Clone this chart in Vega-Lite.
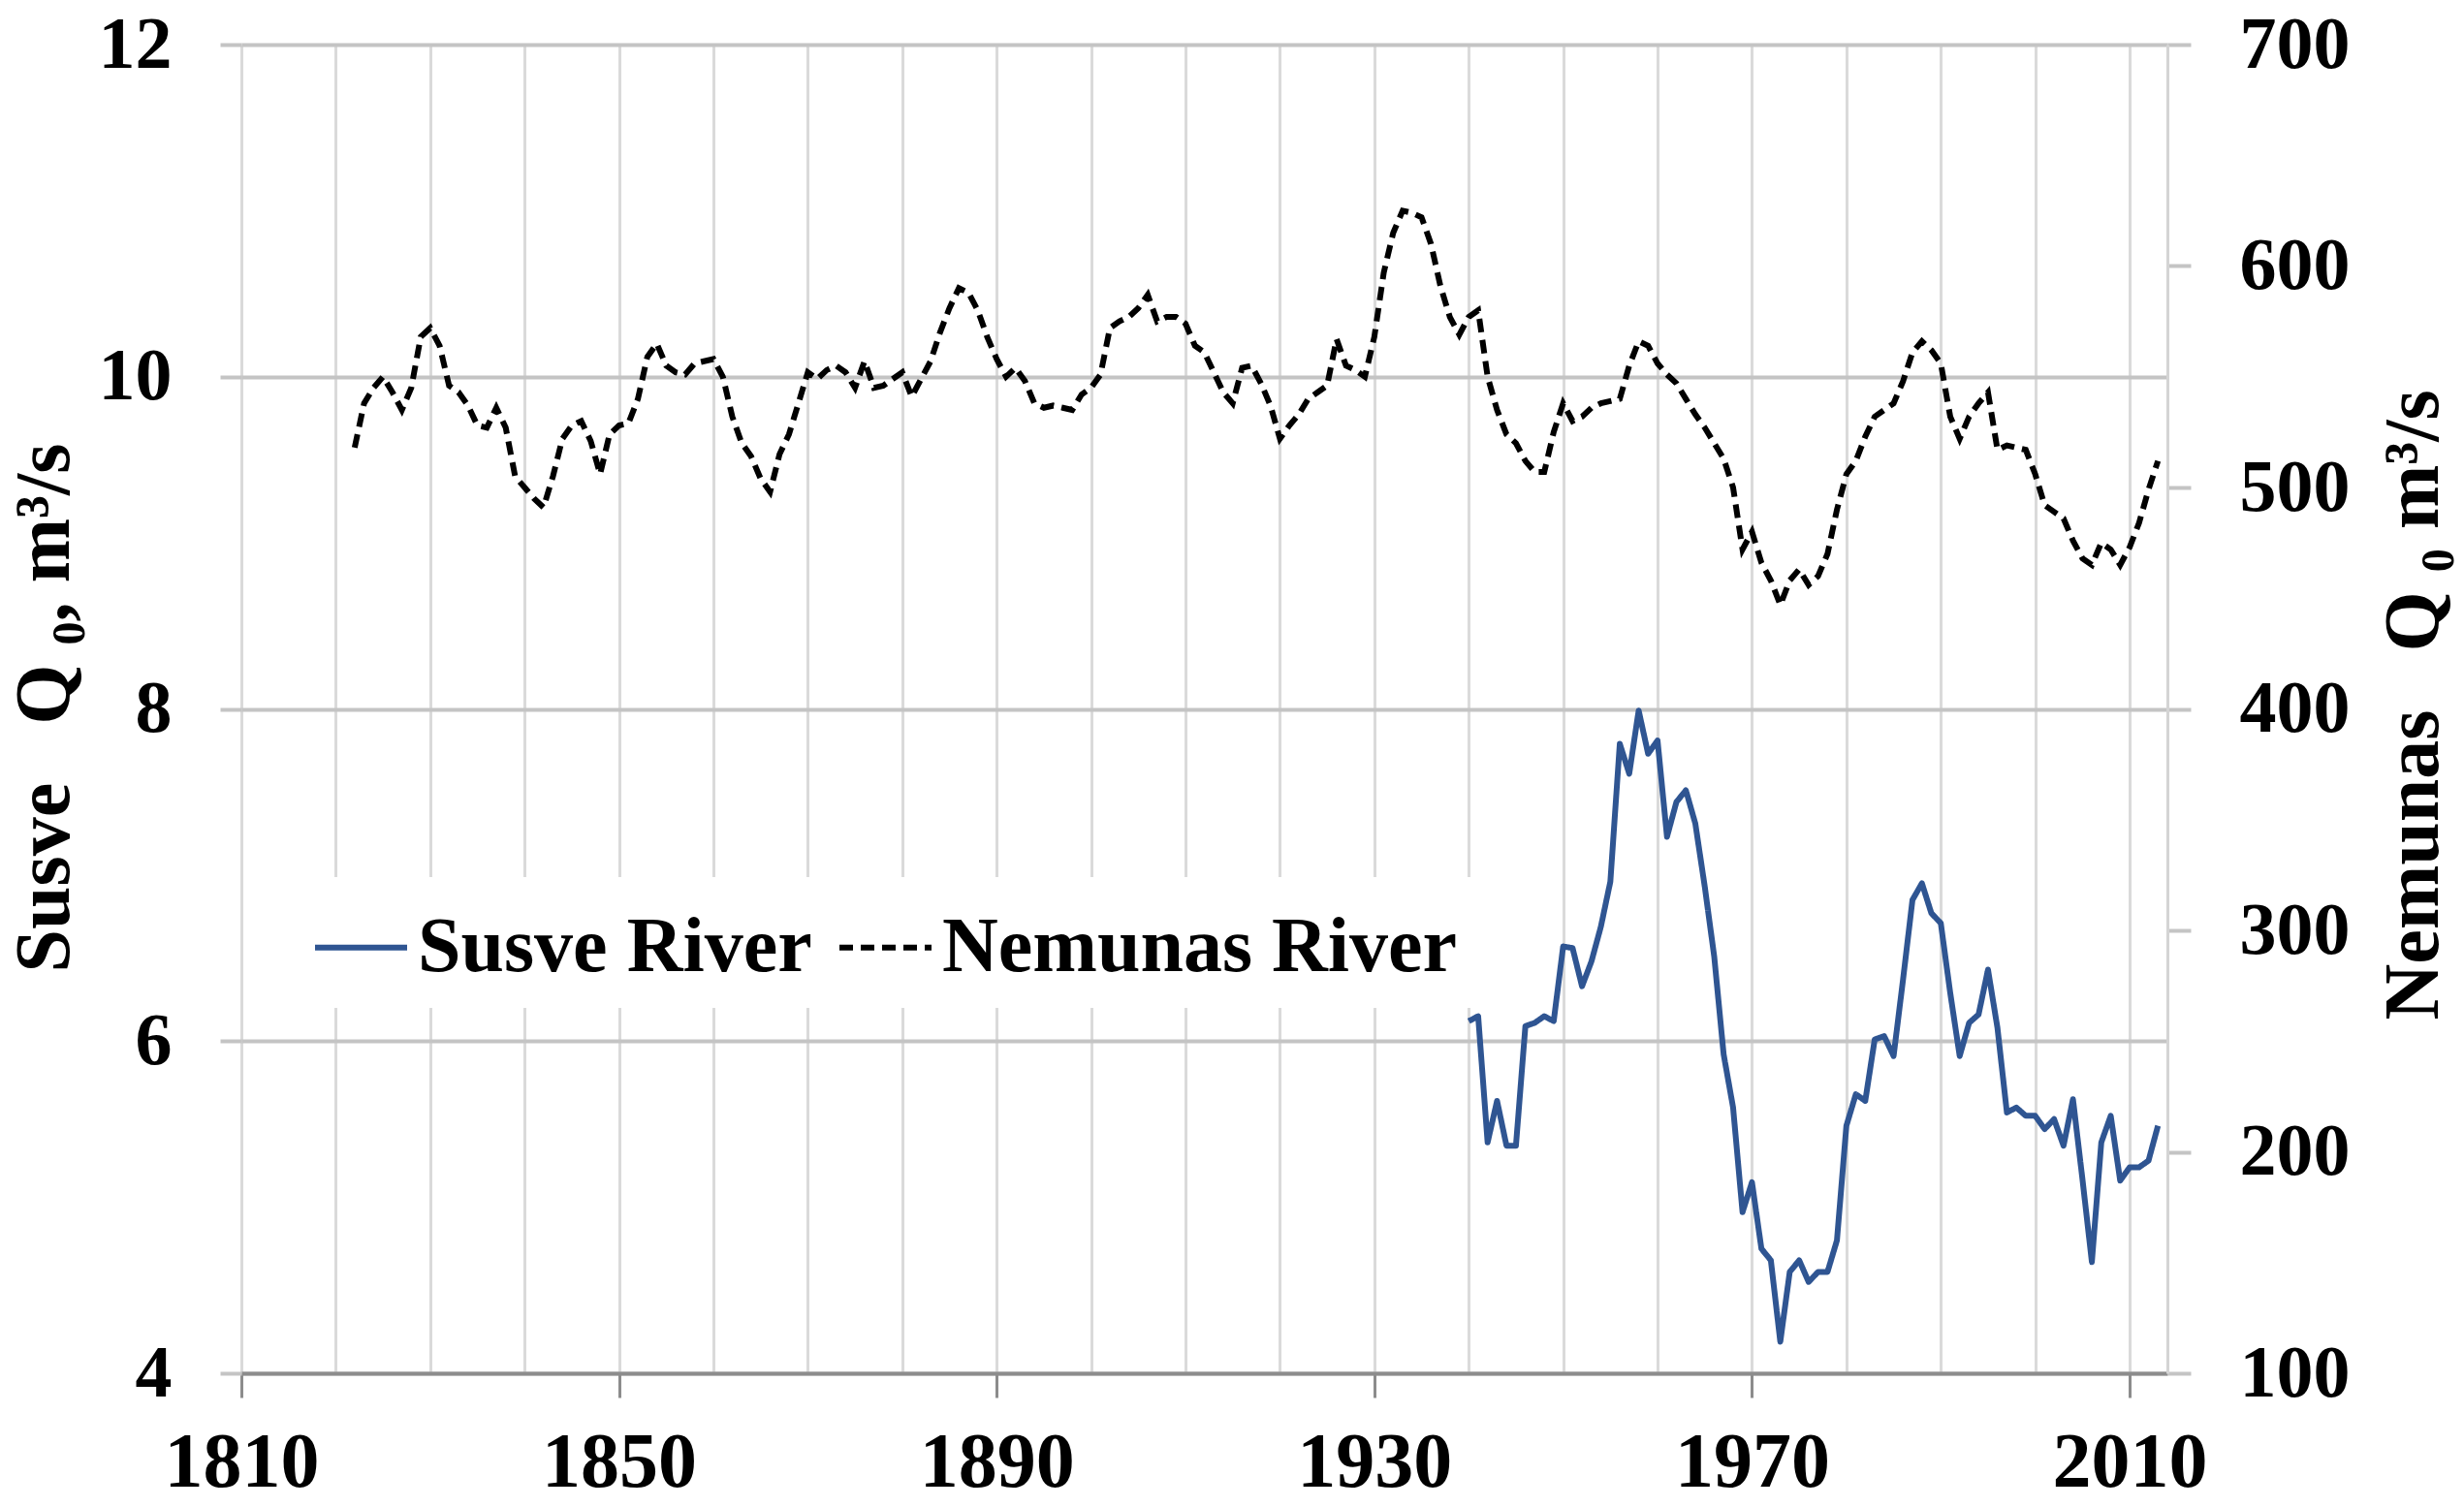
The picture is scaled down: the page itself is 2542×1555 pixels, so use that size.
{
  "$schema": "https://vega.github.io/schema/vega-lite/v6.json",
  "width": 1987,
  "height": 1371,
  "autosize": "none",
  "padding": {"left": 249, "top": 46, "right": 306, "bottom": 138},
  "background": "white",
  "config": {
    "view": {"stroke": null},
    "font": "Liberation Serif",
    "axis": {
      "labelFont": "Liberation Serif",
      "labelFontSize": 80,
      "labelFontWeight": "bold",
      "labelColor": "black",
      "titleFont": "Liberation Serif",
      "titleFontSize": 80,
      "titleFontWeight": "bold",
      "titleColor": "black"
    },
    "legend": {
      "orient": "none",
      "legendX": 51,
      "legendY": 859,
      "direction": "horizontal",
      "fillColor": "white",
      "padding": 22,
      "symbolType": "stroke",
      "symbolSize": 9025,
      "symbolStrokeWidth": 6,
      "labelFont": "Liberation Serif",
      "labelFontSize": 80,
      "labelFontWeight": "bold",
      "labelColor": "black",
      "labelOffset": 8,
      "labelLimit": 0,
      "columnPadding": 16
    }
  },
  "datasets": {
    "susve": [
      {"year": 1940, "q": 6.12}, {"year": 1941, "q": 6.15}, {"year": 1942, "q": 5.39}, {"year": 1943, "q": 5.64},
      {"year": 1944, "q": 5.37}, {"year": 1945, "q": 5.37}, {"year": 1946, "q": 6.09}, {"year": 1947, "q": 6.11},
      {"year": 1948, "q": 6.15}, {"year": 1949, "q": 6.12}, {"year": 1950, "q": 6.57}, {"year": 1951, "q": 6.56},
      {"year": 1952, "q": 6.33}, {"year": 1953, "q": 6.48}, {"year": 1954, "q": 6.69}, {"year": 1955, "q": 6.96},
      {"year": 1956, "q": 7.79}, {"year": 1957, "q": 7.61}, {"year": 1958, "q": 7.99}, {"year": 1959, "q": 7.73},
      {"year": 1960, "q": 7.81}, {"year": 1961, "q": 7.23}, {"year": 1962, "q": 7.44}, {"year": 1963, "q": 7.51},
      {"year": 1964, "q": 7.31}, {"year": 1965, "q": 6.93}, {"year": 1966, "q": 6.51}, {"year": 1967, "q": 5.92},
      {"year": 1968, "q": 5.6}, {"year": 1969, "q": 4.97}, {"year": 1970, "q": 5.15}, {"year": 1971, "q": 4.75},
      {"year": 1972, "q": 4.68}, {"year": 1973, "q": 4.19}, {"year": 1974, "q": 4.61}, {"year": 1975, "q": 4.68},
      {"year": 1976, "q": 4.55}, {"year": 1977, "q": 4.61}, {"year": 1978, "q": 4.61}, {"year": 1979, "q": 4.8},
      {"year": 1980, "q": 5.49}, {"year": 1981, "q": 5.68}, {"year": 1982, "q": 5.64}, {"year": 1983, "q": 6.01},
      {"year": 1984, "q": 6.03}, {"year": 1985, "q": 5.91}, {"year": 1986, "q": 6.37}, {"year": 1987, "q": 6.85},
      {"year": 1988, "q": 6.95}, {"year": 1989, "q": 6.77}, {"year": 1990, "q": 6.71}, {"year": 1991, "q": 6.29},
      {"year": 1992, "q": 5.91}, {"year": 1993, "q": 6.11}, {"year": 1994, "q": 6.16}, {"year": 1995, "q": 6.43},
      {"year": 1996, "q": 6.08}, {"year": 1997, "q": 5.57}, {"year": 1998, "q": 5.6}, {"year": 1999, "q": 5.55},
      {"year": 2000, "q": 5.55}, {"year": 2001, "q": 5.47}, {"year": 2002, "q": 5.53}, {"year": 2003, "q": 5.37},
      {"year": 2004, "q": 5.65}, {"year": 2005, "q": 5.17}, {"year": 2006, "q": 4.67}, {"year": 2007, "q": 5.39},
      {"year": 2008, "q": 5.55}, {"year": 2009, "q": 5.16}, {"year": 2010, "q": 5.24}, {"year": 2011, "q": 5.24},
      {"year": 2012, "q": 5.28}, {"year": 2013, "q": 5.49}
    ],
    "nemunas": [
      {"year": 1822, "q": 518}, {"year": 1823, "q": 538}, {"year": 1824, "q": 545}, {"year": 1825, "q": 550},
      {"year": 1826, "q": 543}, {"year": 1827, "q": 535}, {"year": 1828, "q": 545}, {"year": 1829, "q": 568},
      {"year": 1830, "q": 572}, {"year": 1831, "q": 564}, {"year": 1832, "q": 546}, {"year": 1833, "q": 543},
      {"year": 1834, "q": 537}, {"year": 1835, "q": 528}, {"year": 1836, "q": 527}, {"year": 1837, "q": 536},
      {"year": 1838, "q": 527}, {"year": 1839, "q": 505}, {"year": 1840, "q": 500}, {"year": 1841, "q": 495},
      {"year": 1842, "q": 491}, {"year": 1843, "q": 505}, {"year": 1844, "q": 522}, {"year": 1845, "q": 528},
      {"year": 1846, "q": 530}, {"year": 1847, "q": 521}, {"year": 1848, "q": 506}, {"year": 1849, "q": 524},
      {"year": 1850, "q": 528}, {"year": 1851, "q": 529}, {"year": 1852, "q": 540}, {"year": 1853, "q": 559},
      {"year": 1854, "q": 565}, {"year": 1855, "q": 555}, {"year": 1856, "q": 552}, {"year": 1857, "q": 551},
      {"year": 1858, "q": 556}, {"year": 1859, "q": 557}, {"year": 1860, "q": 558}, {"year": 1861, "q": 550},
      {"year": 1862, "q": 532}, {"year": 1863, "q": 520}, {"year": 1864, "q": 514}, {"year": 1865, "q": 504},
      {"year": 1866, "q": 498}, {"year": 1867, "q": 515}, {"year": 1868, "q": 524}, {"year": 1869, "q": 538},
      {"year": 1870, "q": 552}, {"year": 1871, "q": 549}, {"year": 1872, "q": 553}, {"year": 1873, "q": 555},
      {"year": 1874, "q": 552}, {"year": 1875, "q": 545}, {"year": 1876, "q": 557}, {"year": 1877, "q": 545},
      {"year": 1878, "q": 546}, {"year": 1879, "q": 549}, {"year": 1880, "q": 552}, {"year": 1881, "q": 541},
      {"year": 1882, "q": 549}, {"year": 1883, "q": 557}, {"year": 1884, "q": 570}, {"year": 1885, "q": 581},
      {"year": 1886, "q": 590}, {"year": 1887, "q": 588}, {"year": 1888, "q": 580}, {"year": 1889, "q": 568},
      {"year": 1890, "q": 558}, {"year": 1891, "q": 550}, {"year": 1892, "q": 554}, {"year": 1893, "q": 548},
      {"year": 1894, "q": 538}, {"year": 1895, "q": 536}, {"year": 1896, "q": 537}, {"year": 1897, "q": 536},
      {"year": 1898, "q": 535}, {"year": 1899, "q": 542}, {"year": 1900, "q": 545}, {"year": 1901, "q": 551},
      {"year": 1902, "q": 572}, {"year": 1903, "q": 575}, {"year": 1904, "q": 577}, {"year": 1905, "q": 581},
      {"year": 1906, "q": 587}, {"year": 1907, "q": 575}, {"year": 1908, "q": 577}, {"year": 1909, "q": 577},
      {"year": 1910, "q": 574}, {"year": 1911, "q": 564}, {"year": 1912, "q": 561}, {"year": 1913, "q": 552},
      {"year": 1914, "q": 543}, {"year": 1915, "q": 538}, {"year": 1916, "q": 554}, {"year": 1917, "q": 555},
      {"year": 1918, "q": 547}, {"year": 1919, "q": 537}, {"year": 1920, "q": 522}, {"year": 1921, "q": 528},
      {"year": 1922, "q": 533}, {"year": 1923, "q": 540}, {"year": 1924, "q": 543}, {"year": 1925, "q": 546},
      {"year": 1926, "q": 567}, {"year": 1927, "q": 555}, {"year": 1928, "q": 553}, {"year": 1929, "q": 550},
      {"year": 1930, "q": 568}, {"year": 1931, "q": 597}, {"year": 1932, "q": 615}, {"year": 1933, "q": 625},
      {"year": 1934, "q": 624}, {"year": 1935, "q": 622}, {"year": 1936, "q": 610}, {"year": 1937, "q": 591},
      {"year": 1938, "q": 577}, {"year": 1939, "q": 569}, {"year": 1940, "q": 577}, {"year": 1941, "q": 580},
      {"year": 1942, "q": 550}, {"year": 1943, "q": 535}, {"year": 1944, "q": 524}, {"year": 1945, "q": 520},
      {"year": 1946, "q": 512}, {"year": 1947, "q": 507}, {"year": 1948, "q": 507}, {"year": 1949, "q": 525},
      {"year": 1950, "q": 538}, {"year": 1951, "q": 530}, {"year": 1952, "q": 532}, {"year": 1953, "q": 536},
      {"year": 1954, "q": 538}, {"year": 1955, "q": 539}, {"year": 1956, "q": 540}, {"year": 1957, "q": 555},
      {"year": 1958, "q": 566}, {"year": 1959, "q": 564}, {"year": 1960, "q": 556}, {"year": 1961, "q": 551},
      {"year": 1962, "q": 547}, {"year": 1963, "q": 540}, {"year": 1964, "q": 533}, {"year": 1965, "q": 527},
      {"year": 1966, "q": 520}, {"year": 1967, "q": 513}, {"year": 1968, "q": 500}, {"year": 1969, "q": 472},
      {"year": 1970, "q": 480}, {"year": 1971, "q": 466}, {"year": 1972, "q": 458}, {"year": 1973, "q": 447},
      {"year": 1974, "q": 458}, {"year": 1975, "q": 463}, {"year": 1976, "q": 456}, {"year": 1977, "q": 460},
      {"year": 1978, "q": 470}, {"year": 1979, "q": 490}, {"year": 1980, "q": 506}, {"year": 1981, "q": 512},
      {"year": 1982, "q": 523}, {"year": 1983, "q": 532}, {"year": 1984, "q": 535}, {"year": 1985, "q": 538},
      {"year": 1986, "q": 548}, {"year": 1987, "q": 561}, {"year": 1988, "q": 566}, {"year": 1989, "q": 562},
      {"year": 1990, "q": 556}, {"year": 1991, "q": 532}, {"year": 1992, "q": 522}, {"year": 1993, "q": 532},
      {"year": 1994, "q": 538}, {"year": 1995, "q": 543}, {"year": 1996, "q": 517}, {"year": 1997, "q": 519},
      {"year": 1998, "q": 518}, {"year": 1999, "q": 517}, {"year": 2000, "q": 506}, {"year": 2001, "q": 492},
      {"year": 2002, "q": 489}, {"year": 2003, "q": 486}, {"year": 2004, "q": 476}, {"year": 2005, "q": 468},
      {"year": 2006, "q": 465}, {"year": 2007, "q": 475}, {"year": 2008, "q": 472}, {"year": 2009, "q": 465},
      {"year": 2010, "q": 473}, {"year": 2011, "q": 484}, {"year": 2012, "q": 499}, {"year": 2013, "q": 512}
    ]
  },
  "encoding": {
    "x": {
      "field": "year",
      "type": "quantitative",
      "scale": {"domain": [1810, 2014], "nice": false, "zero": false},
      "axis": {
        "title": null,
        "values": [1810, 1820, 1830, 1840, 1850, 1860, 1870, 1880, 1890, 1900, 1910, 1920, 1930, 1940, 1950, 1960, 1970, 1980, 1990, 2000, 2010],
        "labelExpr": "(datum.value - 1810) % 40 == 0 ? datum.label : ''",
        "format": "d",
        "grid": true,
        "gridColor": "#dadada",
        "gridWidth": 3,
        "domainColor": "#8c8c8c",
        "domainWidth": 4,
        "tickColor": "#8c8c8c",
        "tickWidth": 3,
        "tickSize": 25,
        "tickOpacity": {"condition": {"test": "(datum.value - 1810) % 40 == 0", "value": 1}, "value": 0},
        "labelPadding": 28,
        "labelFlush": false,
        "labelOverlap": false
      }
    }
  },
  "layer": [
    {
      "data": {"name": "susve"},
      "mark": {"type": "line", "strokeWidth": 6, "strokeJoin": "round"},
      "encoding": {
        "y": {
          "field": "q",
          "type": "quantitative",
          "scale": {"domain": [4, 12], "nice": false, "zero": false},
          "axis": {
            "orient": "left",
            "title": "Susve\u00a0\u00a0\u00a0Q\u00a0₀,\u00a0m³/s",
            "titleX": -203,
            "titleY": 684,
            "titleAngle": 270,
            "titleAlign": "center",
            "titleBaseline": "middle",
            "values": [4, 6, 8, 10, 12],
            "grid": true,
            "gridColor": "#c4c4c4",
            "gridWidth": 4,
            "domain": false,
            "tickColor": "#c4c4c4",
            "tickWidth": 4,
            "tickSize": 22,
            "labelFontSize": 76,
            "labelPadding": 50
          }
        },
        "color": {
          "datum": "Susve River",
          "type": "nominal",
          "scale": {"domain": ["Susve River", "Nemunas River"], "range": ["#2f5592", "#000000"]},
          "legend": {"title": null}
        },
        "strokeDash": {
          "datum": "Susve River",
          "type": "nominal",
          "scale": {"domain": ["Susve River", "Nemunas River"], "range": [[1, 0], [14, 8]]},
          "legend": {"title": null}
        }
      }
    },
    {
      "data": {"name": "nemunas"},
      "mark": {"type": "line", "strokeWidth": 6},
      "encoding": {
        "y": {
          "field": "q",
          "type": "quantitative",
          "scale": {"domain": [100, 700], "nice": false, "zero": false},
          "axis": {
            "orient": "right",
            "title": "Nemunas\u00a0\u00a0\u00a0Q\u00a0₀\u00a0m³/s",
            "titleX": 254,
            "titleY": 681,
            "titleAngle": 270,
            "titleAlign": "center",
            "titleBaseline": "middle",
            "values": [100, 200, 300, 400, 500, 600, 700],
            "grid": false,
            "domain": true,
            "domainColor": "#d4d4d4",
            "domainWidth": 3,
            "tickColor": "#c4c4c4",
            "tickWidth": 4,
            "tickSize": 24,
            "labelFontSize": 76,
            "labelPadding": 50
          }
        },
        "color": {"datum": "Nemunas River", "type": "nominal"},
        "strokeDash": {"datum": "Nemunas River", "type": "nominal"}
      }
    }
  ],
  "resolve": {"scale": {"y": "independent"}}
}
